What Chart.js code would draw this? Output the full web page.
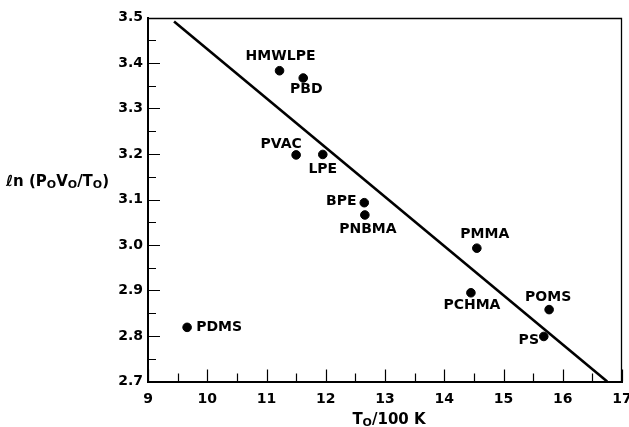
<!DOCTYPE html>
<html><head><meta charset="utf-8">
<script src="https://cdn.jsdelivr.net/npm/chart.js@4/dist/chart.umd.min.js"></script>
<style>html,body{margin:0;padding:0;background:#fff}#wrap{width:629px;height:427px}</style>
</head><body><div id="wrap"><canvas id="c" width="629" height="427"></canvas></div>
<script>
// ---- data ----
const polymers = ['HMWLPE','PBD','PVAC','LPE','BPE','PNBMA','PMMA','PCHMA','POMS','PS','PDMS'];
const tValues  = [11.22, 11.62, 11.50, 11.95, 12.65, 12.66, 14.55, 14.45, 15.77, 15.68, 9.66];
const lnValues = [3.383, 3.367, 3.198, 3.199, 3.093, 3.066, 2.993, 2.895, 2.858, 2.799, 2.819];
const fitT  = [9.44, 16.75];
const fitLn = [3.491, 2.70];
const xTickValues = [9,10,11,12,13,14,15,16,17];
const yTickValues = [2.7,2.8,2.9,3.0,3.1,3.2,3.3,3.4,3.5];

// ---- label placement (pixel offsets from each point, style only) ----
const labelDx = [1, 3, -15, 0, -23, 3, 8, 1, -1, -15, 32];
const labelDy = [-14, 11, -11, 15, -1, 14, -14, 13, -12, 4, 0];

const FONT = '"DejaVu Sans", sans-serif';

const pointsData = tValues.map((t,i)=>({x:t, y:lnValues[i]}));
const fitData = fitT.map((t,i)=>({x:t, y:fitLn[i]}));

const decor = {
  id:'decor',
  afterDraw(chart){
    const ctx = chart.ctx, xs = chart.scales.x, ys = chart.scales.y, a = chart.chartArea;
    ctx.save();
    ctx.strokeStyle = '#000'; ctx.lineWidth = 1.3;
    const ty = Math.round(ys.getPixelForValue(ys.max)) + 0.5;
    const rx = Math.round(xs.getPixelForValue(xs.max)) - 0.5;
    ctx.beginPath();
    ctx.moveTo(a.left, ty); ctx.lineTo(rx, ty); ctx.lineTo(rx, a.bottom);
    ctx.stroke();
    ctx.lineWidth = 1.2;
    ctx.beginPath();
    for (let k=0; k<=16; k++){
      const v = ys.min + k*0.05;
      const py = Math.round(ys.getPixelForValue(v))+0.5;
      const len = (k%2===0) ? 12 : 8;
      ctx.moveTo(a.left, py); ctx.lineTo(a.left+len, py);
    }
    for (let k=0; k<=16; k++){
      const v = xs.min + k*0.5;
      const px = Math.round(xs.getPixelForValue(v))+0.5;
      const len = (k%2===0) ? 12 : 8;
      ctx.moveTo(px, a.bottom); ctx.lineTo(px, a.bottom-len);
    }
    ctx.stroke();
    ctx.fillStyle = '#000';
    ctx.font = 'bold 14px ' + FONT;
    ctx.textAlign = 'center'; ctx.textBaseline = 'middle';
    polymers.forEach((n,i)=>{
      const px = xs.getPixelForValue(tValues[i]) + labelDx[i];
      const py = ys.getPixelForValue(lnValues[i]) + labelDy[i];
      ctx.fillText(n, px, py);
    });
    const drawParts = (parts, x, y, align) => {
      ctx.textBaseline = 'alphabetic'; ctx.textAlign = 'left';
      let total = 0;
      parts.forEach(p=>{ ctx.font = (p.sub ? 'bold 11px ' : 'bold 15px ') + FONT; total += ctx.measureText(p.t).width; });
      let cx = align==='center' ? x - total/2 : x;
      parts.forEach(p=>{
        ctx.font = (p.sub ? 'bold 11px ' : 'bold 15px ') + FONT;
        ctx.fillText(p.t, cx, y + (p.sub ? 2 : 0));
        cx += ctx.measureText(p.t).width;
      });
    };
    drawParts([{t:'ℓn (P'},{t:'O',sub:1},{t:'V'},{t:'O',sub:1},{t:'/T'},{t:'O',sub:1},{t:')'}], 6, 186, 'left');
    drawParts([{t:'T'},{t:'O',sub:1},{t:'/100 K'}], 389, 424, 'center');
    ctx.restore();
  }
};

new Chart(document.getElementById('c'), {
  type:'scatter',
  data:{datasets:[
    {label:'fit', type:'line', data:fitData, borderColor:'#000', borderWidth:2.6, pointRadius:0, fill:false, tension:0},
    {label:'polymers', data:pointsData, backgroundColor:'#000', borderColor:'#000', pointRadius:4.3, pointHoverRadius:4.3}
  ]},
  options:{
    responsive:false, animation:false, devicePixelRatio:1,
    layout:{padding:{top:17.5, right:7, left:0, bottom:0}},
    plugins:{legend:{display:false}, tooltip:{enabled:false}},
    scales:{
      x:{type:'linear', min:9, max:17,
        afterBuildTicks(s){ s.ticks = xTickValues.map(v=>({value:v})); },
        afterFit(s){ s.height = 45.5; s.paddingLeft = 0; s.paddingRight = 0; },
        grid:{display:false, drawTicks:false},
        border:{display:true, color:'#000', width:2},
        ticks:{color:'#000', padding:9, font:{family:FONT, size:14, weight:'bold'}, callback:v=>String(v), maxRotation:0}
      },
      y:{type:'linear', min:2.7, max:3.5,
        afterBuildTicks(s){ s.ticks = yTickValues.map(v=>({value:v})); },
        afterFit(s){ s.width = 148; s.paddingTop = 0; s.paddingBottom = 0; },
        grid:{display:false, drawTicks:false},
        border:{display:true, color:'#000', width:2},
        ticks:{color:'#000', padding:5, font:{family:FONT, size:14, weight:'bold'}, callback:v=>Number(v).toFixed(1)}
      }
    }
  },
  plugins:[decor]
});
</script></body></html>
